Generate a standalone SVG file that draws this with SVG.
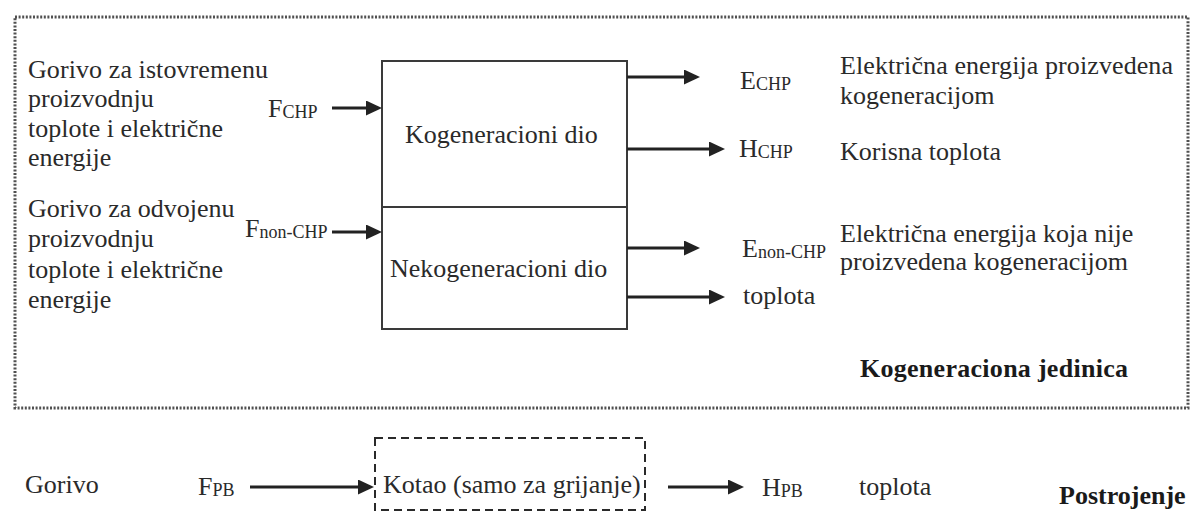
<svg xmlns="http://www.w3.org/2000/svg" width="1192" height="511" viewBox="0 0 1192 511">
  <style>
    text { font-family: "Liberation Serif", "Times New Roman", serif; font-size: 26px; fill: #2a2a2a; }
    .sub { font-size: 18px; }
    .bold { font-weight: bold; fill: #1a1a1a; }
    .box { fill: none; stroke: #3a3a3a; stroke-width: 2; }
    .outer { fill: none; stroke: #505050; stroke-width: 3; stroke-dasharray: 2 1.6; }
    .dashed { fill: none; stroke: #2a2a2a; stroke-width: 2; stroke-dasharray: 8 5; }
    .arrow { stroke: #222; stroke-width: 3; fill: none; marker-end: url(#ah); }
  </style>
  <defs>
    <marker id="ah" markerUnits="userSpaceOnUse" markerWidth="16" markerHeight="15" refX="6" refY="7.5" orient="auto">
      <path d="M0,0 L16,7.5 L0,15 z" fill="#222"/>
    </marker>
  </defs>

  <g id="kogeneraciona-jedinica">
    <rect class="outer" x="15" y="17" width="1173" height="391"/>
    <text class="bold" x="860" y="377" textLength="268" lengthAdjust="spacing">Kogeneraciona jedinica</text>
  </g>

  <g id="input-chp-text">
    <text x="28" y="78" textLength="240" lengthAdjust="spacing">Gorivo za istovremenu</text>
    <text x="28" y="107">proizvodnju</text>
    <text x="28" y="137">toplote i električne</text>
    <text x="28" y="166">energije</text>
  </g>
  <g id="input-nonchp-text">
    <text x="28" y="217">Gorivo za odvojenu</text>
    <text x="28" y="247">proizvodnju</text>
    <text x="28" y="278">toplote i električne</text>
    <text x="28" y="308">energije</text>
  </g>

  <g id="label-fchp"><text x="268" y="117">F<tspan class="sub" dy="1">CHP</tspan></text></g>
  <g id="label-fnonchp"><text x="245" y="237">F<tspan class="sub" dy="1">non-CHP</tspan></text></g>

  <g id="main-box">
    <rect class="box" x="382" y="61" width="245" height="268"/>
    <line class="box" x1="382" y1="207" x2="627" y2="207"/>
  </g>
  <g id="kogeneracioni-dio"><text x="405" y="143">Kogeneracioni dio</text></g>
  <g id="nekogeneracioni-dio"><text x="390" y="277">Nekogeneracioni dio</text></g>

  <g id="label-echp"><text x="740" y="89">E<tspan class="sub" dy="1">CHP</tspan></text></g>
  <g id="label-hchp"><text x="739" y="157">H<tspan class="sub" dy="1">CHP</tspan></text></g>
  <g id="label-enonchp"><text x="742" y="257">E<tspan class="sub" dy="1">non-CHP</tspan></text></g>
  <g id="label-toplota1"><text x="743" y="304">toplota</text></g>

  <g id="desc-echp">
    <text x="840" y="74" textLength="333" lengthAdjust="spacing">Električna energija proizvedena</text>
    <text x="840" y="104">kogeneracijom</text>
  </g>
  <g id="desc-hchp"><text x="840" y="160">Korisna toplota</text></g>
  <g id="desc-enonchp">
    <text x="840" y="242">Električna energija koja nije</text>
    <text x="840" y="270">proizvedena kogeneracijom</text>
  </g>

  <g id="postrojenje">
    <text x="25" y="493">Gorivo</text>
    <text x="198" y="495">F<tspan class="sub" dy="1">PB</tspan></text>
    <text class="bold" x="1059" y="504">Postrojenje</text>
  </g>
  <g id="kotao">
    <rect class="dashed" x="375" y="438" width="270" height="72"/>
    <text x="383" y="493">Kotao (samo za grijanje)</text>
  </g>
  <g id="label-hpb"><text x="762" y="496">H<tspan class="sub" dy="1">PB</tspan></text></g>
  <g id="label-toplota2"><text x="859" y="495">toplota</text></g>

  <g id="connectors">
    <line class="arrow" x1="332" y1="108" x2="372" y2="108"/>
    <line class="arrow" x1="332" y1="232" x2="372" y2="232"/>
    <line class="arrow" x1="627" y1="77" x2="690" y2="77"/>
    <line class="arrow" x1="627" y1="149" x2="715" y2="149"/>
    <line class="arrow" x1="627" y1="248" x2="690" y2="248"/>
    <line class="arrow" x1="627" y1="297" x2="715" y2="297"/>
    <line class="arrow" x1="250" y1="487" x2="364" y2="487"/>
    <line class="arrow" x1="668" y1="487" x2="734" y2="487"/>
  </g>
</svg>
